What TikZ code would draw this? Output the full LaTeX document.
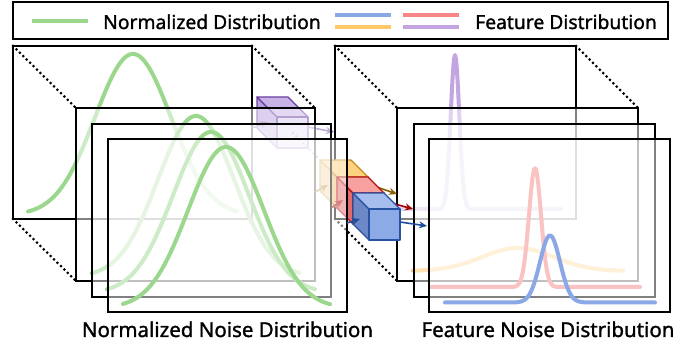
\documentclass[tikz,border=0pt]{standalone}
\usepackage{fontspec}
\setmainfont{Noto Sans}[FakeBold=1.3]
\usetikzlibrary{arrows.meta}
\definecolor{gr}{HTML}{9BD88E}
\definecolor{pu}{HTML}{C3A5E2}
\definecolor{orc}{HTML}{FFC766}
\definecolor{rdc}{HTML}{F78585}
\definecolor{blc}{HTML}{8AA8E6}
\definecolor{puA}{HTML}{7B5BAE}
\definecolor{orA}{HTML}{8B5E00}
\definecolor{rdA}{HTML}{A50000}
\definecolor{blA}{HTML}{1F4E9C}
\newcommand\myleg{\fontsize{19.3}{22}\selectfont\bfseries}
\newcommand\mybot{\fontsize{20.5}{24}\selectfont\bfseries}
\tikzset{
  frame/.style={draw=black, line width=2pt, fill=white, fill opacity=0.5, inner sep=0pt, outer sep=0pt, anchor=north west, minimum height=173pt},
  lframe/.style={frame, minimum width=239pt},
  rframe/.style={frame, minimum width=241pt},
  dotline/.style={line width=3pt, dash pattern=on 0pt off 4.8pt, line cap=round},
  curve/.style={line width=4pt, line cap=round, line join=round},
  arr/.style={line width=1.6pt, -{Stealth[length=8pt,width=7pt]}},
  edge/.style={line width=1.2pt, line join=round},
  lgline/.style={line width=3.6pt},
}
% #1 colour, #2 x0, #3 y0, #4 start dx, #5 end dx, #6 centre dx, #7 base dy, #8 height, #9 sigma
\newcommand\gaussplot[9]{%
  \draw[curve, #1] plot[domain=#4:#5, samples=211]
    ({#2+\x},{#3+#7-#8*exp(max(-9,-((\x-#6)^2)/(2*#9*#9)))});}
% #1 back x, #2 back y, #3 depth, #4 size, #5 left, #6 top, #7 front, #8 edge
\newcommand\cubedraw[8]{%
  \definecolor{cubeL}{HTML}{#5}\definecolor{cubeT}{HTML}{#6}%
  \definecolor{cubeF}{HTML}{#7}\definecolor{cubeE}{HTML}{#8}%
  \filldraw[edge, draw=cubeE, fill=cubeL] (#1,#2) -- ({#1+#3},{#2+#3}) -- ({#1+#3},{#2+#3+#4}) -- (#1,{#2+#4}) -- cycle;
  \filldraw[edge, draw=cubeE, fill=cubeT] (#1,#2) -- ({#1+#4},#2) -- ({#1+#4+#3},{#2+#3}) -- ({#1+#3},{#2+#3}) -- cycle;
  \filldraw[edge, draw=cubeE, fill=cubeF] ({#1+#3},{#2+#3}) rectangle ({#1+#3+#4},{#2+#3+#4});}
\begin{document}
\begin{tikzpicture}[x=1pt, y=-1pt]
\useasboundingbox (0,0) rectangle (694,347);
% ---------- right stack ----------
\node[rframe] (R1) at (335,46) {};
\node[rframe, draw=none, fill=none] (R2p) at (397,108) {};
\draw[dotline] (R1.north west) -- (R2p.north west);
\draw[dotline] (R1.north east) -- (R2p.north east);
\draw[dotline] (R1.south west) -- (R2p.south west);
\gaussplot{pu}{335}{46}{16}{226}{120}{163}{154}{4.3}
\node[rframe] (R2) at (397,108) {};
\gaussplot{orc}{397}{108}{16}{226}{121}{163}{23}{36}
\node[rframe] (R3) at (414,124) {};
\gaussplot{rdc}{414}{124}{17}{226}{121}{163}{119}{6}
\node[rframe] (R4) at (429,139) {};
\gaussplot{blc}{429}{139}{16}{226}{121}{163.5}{67}{10}
% ---------- left stack ----------
\node[lframe] (L1) at (13,46) {};
\node[lframe, draw=none, fill=none] (L2p) at (76,108) {};
\draw[dotline] (L1.north west) -- (L2p.north west);
\draw[dotline] (L1.south west) -- (L2p.south west);
\draw[dotline] (L1.north east) -- (L2p.north east);
\gaussplot{gr}{13}{46}{15}{224}{120}{169}{161}{38}
% purple cube
\cubedraw{257}{97}{20}{31}{B7A1DC}{C7B3E6}{D8CBF0}{6B3FA0}
\draw[arr, puA] (252,128) -- (268,122);
\draw[arr, puA] (308,127) -- (334,132);
\draw[dotline, line width=2.6pt, gray] (293,133) -- (320,160);
\node[lframe] (L2) at (76,108) {};
\gaussplot{gr}{76}{108}{16}{223}{120}{169}{161}{38}
% orange cube
\cubedraw{320}{160}{17}{31}{F2C27A}{FFD27F}{FFC966}{C48A1C}
\draw[arr, orA] (315,192) -- (328,185);
\draw[arr, orA] (362,182) -- (397,194);
\node[lframe] (L3) at (92,124) {};
\gaussplot{gr}{92}{124}{15}{223}{119}{169}{161}{38}
% red cube
\cubedraw{337}{177}{16}{31}{E36B6B}{F7A0A0}{F48C8C}{B51212}
\draw[arr, rdA] (331,208) -- (343,200);
\draw[arr, rdA] (384,201) -- (413,209);
\node[lframe] (L4) at (108,139) {};
\gaussplot{gr}{108}{139}{15}{222}{118}{169}{161}{38}
% blue cube
\cubedraw{353}{193}{16}{31}{6C88C6}{A6BEEE}{8CAAE6}{2A52A3}
\draw[arr, blA] (347,223) -- (360,219);
\draw[arr, blA] (400,222) -- (427,226);
% ---------- legend ----------
\node[draw=black, line width=2pt, inner sep=0pt, outer sep=0pt, anchor=north west, minimum width=655pt, minimum height=36.5pt] (leg) at (13,2.5) {};
\draw[lgline, gr] (32,21) -- (88,21);
\draw[lgline, blc] (335,15) -- (391,15);
\draw[lgline, orc] (335,27) -- (391,27);
\draw[lgline, rdc] (403,15) -- (459,15);
\draw[lgline, pu] (403,27) -- (459,27);
\node[anchor=base west, inner sep=0pt, font=\myleg] (t1) at (103,29) {Normalized Distribution};
\node[anchor=base west, inner sep=0pt, font=\myleg] (t2) at (475,29) {Feature Distribution};
% ---------- labels ----------
\node[anchor=base, inner sep=0pt, font=\mybot] (b1) at (227.5,337) {Normalized Noise Distribution};
\node[anchor=base, inner sep=0pt, font=\mybot] (b2) at (548,337) {Feature Noise Distribution};
\end{tikzpicture}
\end{document}
